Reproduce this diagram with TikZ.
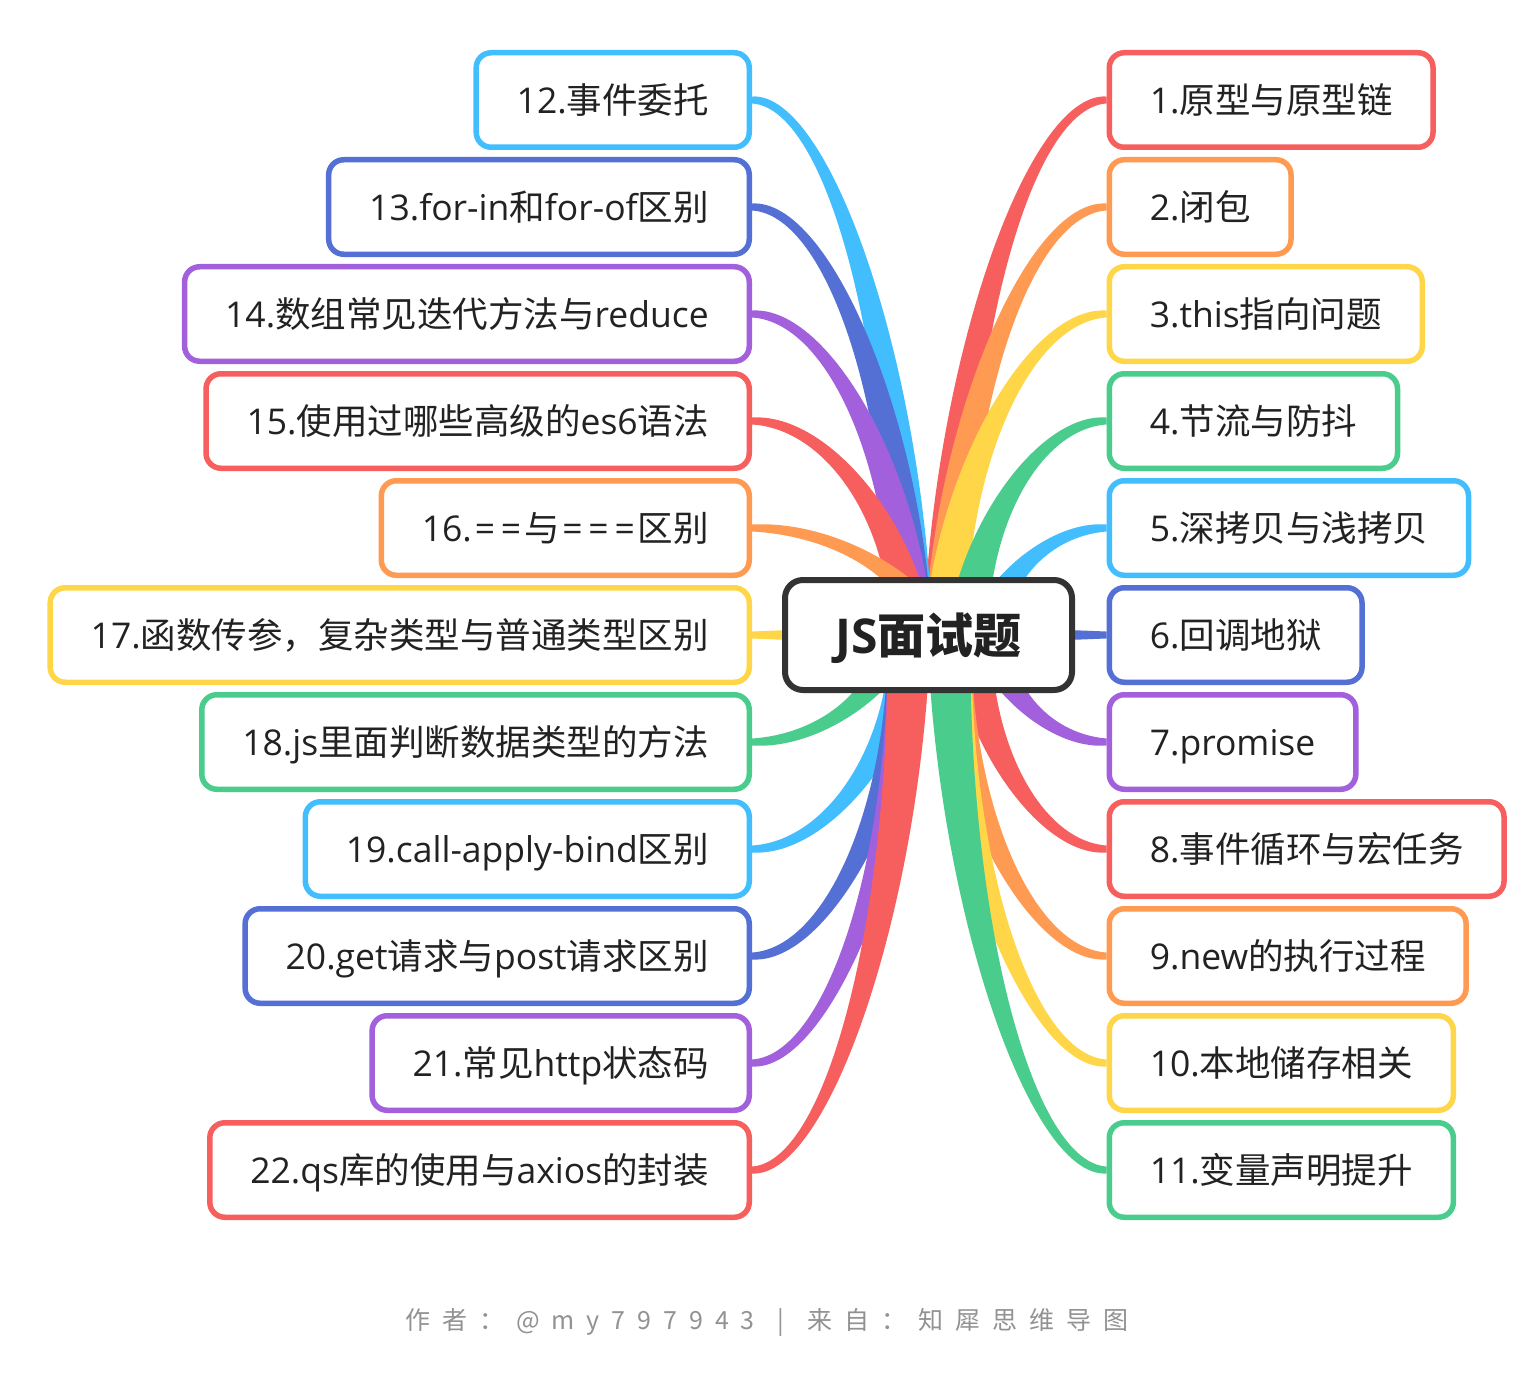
\documentclass[tikz,border=0pt]{standalone}
\usepackage{fontspec}
\setmainfont{Open Sans}
\newfontfamily\cjk{Noto Sans CJK SC}
\usetikzlibrary{calc}
\pgfdeclarelayer{bg}
\pgfsetlayers{bg,main}
\definecolor{cr}{HTML}{F75E5E}
\definecolor{co}{HTML}{FF9A52}
\definecolor{cy}{HTML}{FFD648}
\definecolor{cg}{HTML}{4ACD8C}
\definecolor{cc}{HTML}{42BEFE}
\definecolor{cb}{HTML}{5570D5}
\definecolor{cp}{HTML}{A360DC}
\definecolor{txt}{HTML}{222222}
\definecolor{rootc}{HTML}{333333}
\definecolor{footc}{HTML}{929292}
\newcommand\z[1]{{\cjk #1}}
\newcommand\eq{\kern2.9pt=\kern2.9pt}
\def\hA{3.5pt}\def\hB{8.5pt}\def\hC{16pt}\def\hD{22pt}
% #1 colour, #2 node anchor, #3 end coordinate, #4 sx, #5 sy
\newcommand\branch[5]{%
  \fill[#1] let \p1=(#2), \p2=(#3), \p3=({(\x1+\x2)/2},\y1), \p4=(\x2,{(\y1+\y2)/2}) in
  ({\x1},{\y1+(#4)*\hA}) .. controls ({\x3},{\y3+(#4)*\hB}) and ({\x4+(#5)*\hC},{\y4}) .. ({\x2+(#5)*\hD},{\y2})
  -- ({\x2-(#5)*\hD},{\y2}) .. controls ({\x4-(#5)*\hC},{\y4}) and ({\x3},{\y3-(#4)*\hB}) .. ({\x1},{\y1-(#4)*\hA}) -- cycle;}
\newcommand\lsp{\hskip 12pt}
\def\ls#1{\ifx#1\relax\else#1\lsp\expandafter\ls\fi}
\begin{document}
\begin{tikzpicture}[x=1bp,y=-1bp,
  leaf/.style={draw, line width=5.5bp, rounded corners=15bp, fill=white,
    minimum height=94.5bp, inner xsep=40.5bp, inner ysep=0pt,
    text height=30bp, text depth=3bp, text=txt,
    font=\fontsize{35.5bp}{40bp}\selectfont},
  rleaf/.style={leaf, anchor=west},
  lleaf/.style={leaf, anchor=east},
  rootbox/.style={draw=rootc, line width=6bp, rounded corners=18bp, fill=white,
    minimum width=287bp, minimum height=110bp, inner sep=0pt,
    text height=40bp, text depth=4bp, text=txt,
    font=\fontsize{48bp}{56bp}\selectfont\bfseries},
  foot/.style={inner sep=0pt, text=footc, font=\cjk\fontsize{25bp}{30bp}\selectfont}
]
\useasboundingbox (0,0) rectangle (1540,1380);

% root
\node[rootbox] (root) at (928.5,635) {JS\z{面试题}};

% right side
\node[rleaf, draw=cr] (n1)  at (1106.5,100)  {1.\z{原型与原型链}};
\node[rleaf, draw=co] (n2)  at (1106.5,207)  {2.\z{闭包}};
\node[rleaf, draw=cy] (n3)  at (1106.5,314)  {3.this\z{指向问题}};
\node[rleaf, draw=cg] (n4)  at (1106.5,421)  {4.\z{节流与防抖}};
\node[rleaf, draw=cc] (n5)  at (1106.5,528)  {5.\z{深拷贝与浅拷贝}};
\node[rleaf, draw=cb] (n6)  at (1106.5,635)  {6.\z{回调地狱}};
\node[rleaf, draw=cp] (n7)  at (1106.5,742)  {7.promise};
\node[rleaf, draw=cr] (n8)  at (1106.5,849)  {8.\z{事件循环与宏任务}};
\node[rleaf, draw=co] (n9)  at (1106.5,956)  {9.new\z{的执行过程}};
\node[rleaf, draw=cy] (n10) at (1106.5,1063) {10.\z{本地储存相关}};
\node[rleaf, draw=cg] (n11) at (1106.5,1170) {11.\z{变量声明提升}};

% left side
\node[lleaf, draw=cc] (n12) at (752,100)  {12.\z{事件委托}};
\node[lleaf, draw=cb] (n13) at (752,207)  {13.for-in\z{和}for-of\z{区别}};
\node[lleaf, draw=cp] (n14) at (752,314)  {14.\z{数组常见迭代方法与}reduce};
\node[lleaf, draw=cr] (n15) at (752,421)  {15.\z{使用过哪些高级的}es6\z{语法}};
\node[lleaf, draw=co] (n16) at (752,528)  {16.\eq\eq\z{与}\eq\eq\eq\z{区别}};
\node[lleaf, draw=cy] (n17) at (752,635)  {17.\z{函数传参，复杂类型与普通类型区别}};
\node[lleaf, draw=cg] (n18) at (752,742)  {18.js\z{里面判断数据类型的方法}};
\node[lleaf, draw=cc] (n19) at (752,849)  {19.call-apply-bind\z{区别}};
\node[lleaf, draw=cb] (n20) at (752,956)  {20.get\z{请求与}post\z{请求区别}};
\node[lleaf, draw=cp] (n21) at (752,1063) {21.\z{常见}http\z{状态码}};
\node[lleaf, draw=cr] (n22) at (752,1170) {22.qs\z{库的使用与}axios\z{的封装}};

% footer
\node[foot, anchor=base west] (f1) at (405,1329) {\ls 作者：@my797943\relax};
\node[foot, anchor=base west] (f2) at (777,1329) {|\hskip 24bp\ls 来自：知犀思维导图\relax};

% branch ends (under the root box)
\coordinate (e1) at (945,650);  \coordinate (e2) at (946,650);
\coordinate (e3) at (945,650);  \coordinate (e4) at (967,650);
\coordinate (e5) at (985,650);
\coordinate (e7) at (988,620);  \coordinate (e8) at (970,620);
\coordinate (e9) at (950,620);  \coordinate (e10) at (950,620);
\coordinate (e11) at (949,620);
\coordinate (e12) at (911,650); \coordinate (e13) at (911,650);
\coordinate (e14) at (912,650); \coordinate (e15) at (912,650);
\coordinate (e16) at (936,650);
\coordinate (e18) at (900,620); \coordinate (e19) at (911,620);
\coordinate (e20) at (909,620); \coordinate (e21) at (909,620);
\coordinate (e22) at (909,620);

\begin{pgfonlayer}{bg}
\fill[white] (0,0) rectangle (1540,1380);
\branch{cr}{n1.west}{e1}{-1}{1}
\branch{co}{n2.west}{e2}{-1}{1}
\branch{cy}{n3.west}{e3}{-1}{1}
\branch{cg}{n4.west}{e4}{-1}{1}
\branch{cc}{n5.west}{e5}{-1}{1}
\branch{cp}{n7.west}{e7}{-1}{-1}
\branch{cr}{n8.west}{e8}{-1}{-1}
\branch{co}{n9.west}{e9}{-1}{-1}
\branch{cy}{n10.west}{e10}{-1}{-1}
\branch{cg}{n11.west}{e11}{-1}{-1}
\branch{cc}{n12.east}{e12}{1}{1}
\branch{cb}{n13.east}{e13}{1}{1}
\branch{cp}{n14.east}{e14}{1}{1}
\branch{cr}{n15.east}{e15}{1}{1}
\branch{co}{n16.east}{e16}{1}{1}
\branch{cg}{n18.east}{e18}{1}{-1}
\branch{cc}{n19.east}{e19}{1}{-1}
\branch{cb}{n20.east}{e20}{1}{-1}
\branch{cp}{n21.east}{e21}{1}{-1}
\branch{cr}{n22.east}{e22}{1}{-1}
\fill[cb] let \p1=(root.east), \p2=(n6.west) in
  ({\x1-6pt},{\y1+5pt}) -- ({\x2},{\y2+3.5pt}) -- ({\x2},{\y2-3.5pt}) -- ({\x1-6pt},{\y1-5pt}) -- cycle;
\fill[cy] let \p1=(root.west), \p2=(n17.east) in
  ({\x1+6pt},{\y1+5pt}) -- ({\x2},{\y2+3.5pt}) -- ({\x2},{\y2-3.5pt}) -- ({\x1+6pt},{\y1-5pt}) -- cycle;
\end{pgfonlayer}
\end{tikzpicture}
\end{document}
